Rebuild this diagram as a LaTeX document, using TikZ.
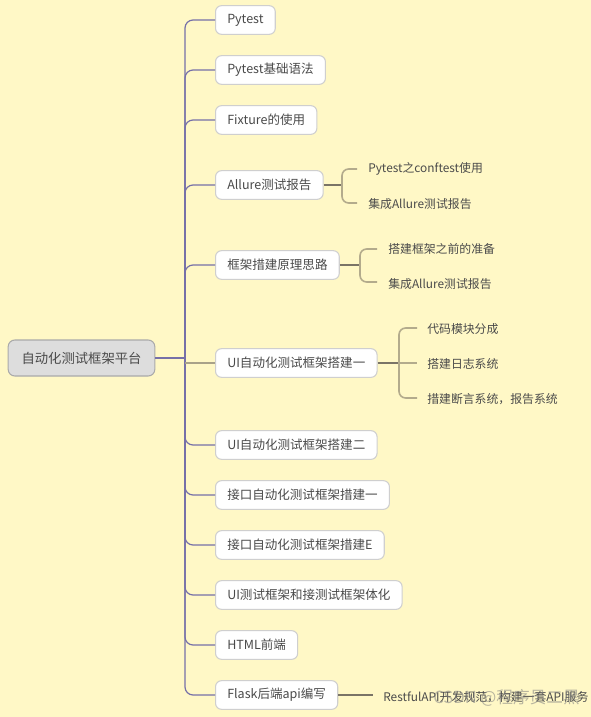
\documentclass[tikz,border=0pt]{standalone}
\usepackage{fontspec}
\setmainfont{Noto Sans CJK SC}
\definecolor{bg}{HTML}{FFF8C6}
\definecolor{trunk}{HTML}{7670A8}
\definecolor{subfork}{HTML}{7A7466}
\definecolor{subleaf}{HTML}{B3AB8C}
\definecolor{txt}{HTML}{4A4A4A}
\definecolor{boxline}{HTML}{CFCFCF}
\definecolor{rootfill}{HTML}{DDDDDD}
\definecolor{rootline}{HTML}{AAAAAA}
\begin{document}
\begin{tikzpicture}[x=0.75pt,y=-0.75pt,
  rootbox/.style={draw=rootline,fill=rootfill,rounded corners=5pt,line width=0.8pt,
    minimum height=27pt,inner xsep=8.5pt,text=txt,font=\fontsize{10}{12}\selectfont},
  childbox/.style={draw=boxline,fill=white,rounded corners=4.5pt,line width=0.8pt,
    minimum height=21.5pt,inner xsep=8.8pt,anchor=west,text=txt,font=\fontsize{9.4}{11}\selectfont},
  leaf/.style={anchor=west,inner sep=0pt,text=txt,font=\fontsize{8.9}{11}\selectfont},
  branch/.style={draw=trunk,line width=0.9pt,rounded corners=6pt},
  fork/.style={draw=subfork,line width=0.9pt},
  leafline/.style={draw=subleaf,line width=1.2pt,rounded corners=5pt}]
\fill[bg] (0,0) rectangle (591,717);
\useasboundingbox (0,0) rectangle (591,717);

\node[rootbox,minimum width=110pt] (root) at (81.5,358) {自动化测试框架平台};
\coordinate (tr) at (185,358);
\draw[draw=trunk,line width=0.9pt] (root.east) -- (tr);

\node[childbox] (c1) at (215,20) {Pytest};
\node[childbox] (c2) at (215,70) {Pytest基础语法};
\node[childbox] (c3) at (215,120) {Fixture的使用};
\node[childbox] (c4) at (215,185) {Allure测试报告};
\node[childbox] (c5) at (215,265) {框架措建原理思路};
\node[childbox] (c6) at (215,363) {UI自动化测试框架搭建一};
\node[childbox] (c7) at (215,445) {UI自动化测试框架搭建二};
\node[childbox] (c8) at (215,495) {接口自动化测试框架措建一};
\node[childbox] (c9) at (215,545) {接口自动化测试框架措建E};
\node[childbox] (c10) at (215,595) {UI测试框架和接测试框架体化};
\node[childbox] (c11) at (215,645) {HTML前端};
\node[childbox] (c12) at (215,695) {Flask后端api编写};

\foreach \n in {c1,c2,c3,c4,c5,c7,c8,c9,c10,c11,c12}{
  \draw[branch] (tr) |- (\n.west);
}
\draw[draw=subleaf!80!gray,line width=1.3pt] (tr |- c6.west) -- (c6.west);

% Allure
\coordinate (f4) at (342,185);
\draw[fork] (c4.east) -- (f4);
\node[leaf] (l41) at (368,169) {Pytest之conftest使用};
\node[leaf] (l42) at (368,204) {集成Allure测试报告};
\coordinate (e41) at (357,169);
\coordinate (e42) at (357,203);
\draw[leafline] (e41) -- (f4 |- e41) -- (f4 |- e42) -- (e42);

% framework
\coordinate (f5) at (360,265);
\draw[fork] (c5.east) -- (f5);
\node[leaf] (l51) at (388,249) {搭建框架之前的准备};
\node[leaf] (l52) at (388,284) {集成Allure测试报告};
\coordinate (e51) at (377,249);
\coordinate (e52) at (377,282);
\draw[leafline] (e51) -- (f5 |- e51) -- (f5 |- e52) -- (e52);

% UI one
\coordinate (f6) at (399,363);
\draw[fork,line width=1.6pt] (c6.east) -- (f6);
\node[leaf] (l61) at (427,329) {代码模块分成};
\node[leaf] (l62) at (427,364) {搭建日志系统};
\node[leaf] (l63) at (427,399) {措建断言系统，报告系统};
\coordinate (e61) at (417,328);
\coordinate (e62) at (417,363);
\coordinate (e63) at (417,398);
\draw[leafline] (e61) -- (f6 |- e61) -- (f6 |- e63) -- (e63);
\draw[leafline] (f6) -- (e62);

% Flask
\coordinate (e12) at (373,695);
\draw[fork] (c12.east) -- (e12);
\node[leaf] (l12) at (383,697) {RestfulAPI开发规范，构建一套API服务};

% watermark
\node[anchor=east,inner sep=0pt,text=gray,opacity=0.55,font=\fontsize{12.5}{14}\selectfont] (wm) at (580,698) {CSDN @程序员二黑};
\end{tikzpicture}
\end{document}
